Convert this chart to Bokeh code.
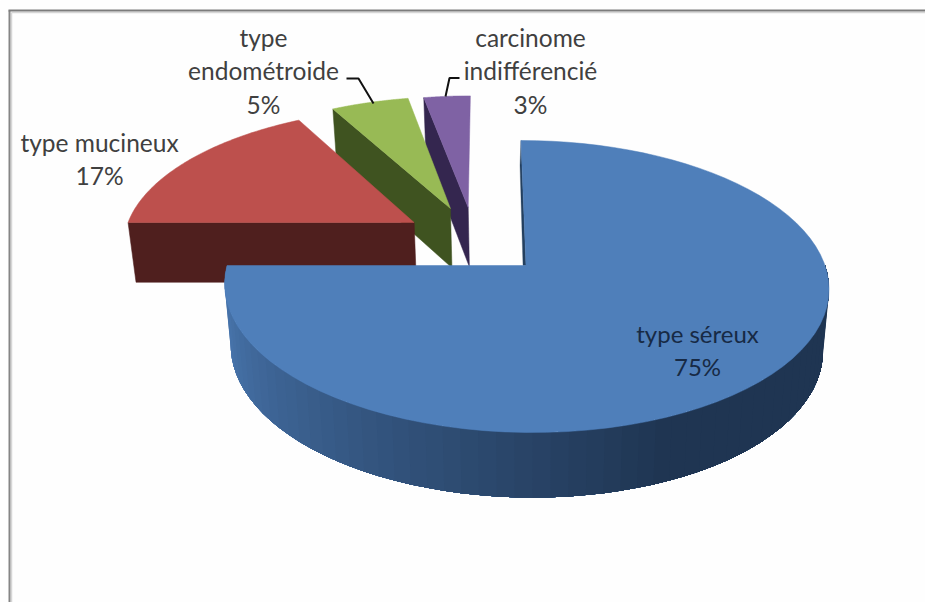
import numpy as np
from bokeh.plotting import figure
from bokeh.embed import file_html
from bokeh.resources import INLINE
from bokeh.core.properties import value

# Slice shares in percent, clockwise from twelve o'clock
categories = ["type séreux", "type mucineux", "type endométroide", "carcinome indifférencié"]
shares = [75, 17, 5, 3]

# Colours per slice: top face and cut wall
top_colors = ["#4f7fba", "#bd504d", "#98ba55", "#7f62a4"]
wall_colors = ["#24405f", "#4f1f1e", "#3f5320", "#34264f"]
# Outer rim of the large slice, shaded left to right
rim_light = np.array([0x4c, 0x7b, 0xb5])
rim_dark = np.array([0x1f, 0x35, 0x52])

# Explosion of each slice, in disc units
explode_u = [0.0, -0.385, -0.26, -0.197]
explode_v = [0.0, 0.314, 0.423, 0.43]

# Projection of the tilted disc onto the page
CX, CY, AX, BY, PERSP, SHEAR = 525.5, 265.0, 299.0, 143.0, 0.1438, 0.04
BASE_SCALE = 0.98


def top(u, v):
    w = 1 + PERSP * v
    y = -BY * v / w
    return CX + AX * u / w + SHEAR * y, CY + y


def base(u, v):
    x, y = top(u, v)
    return CX + (x - CX) * BASE_SCALE, y + 61 - 4 * v


def arc(a0, a1, n=80):
    return np.radians(np.linspace(a0, a1, n))


p = figure(width=925, height=602, x_range=(0, 925), y_range=(602, 0),
           output_backend="svg", toolbar_location=None, min_border=0,
           background_fill_color="#fefefe", border_fill_color="#fefefe")
p.axis.visible = False
p.grid.visible = False
p.outline_line_color = None

# Chart frame with its soft inner edge
p.line([11, 11], [602, 12], line_color="#d6d6d6", line_width=1.5)
p.line([11, 925], [12, 12], line_color="#d6d6d6", line_width=1.5)
p.line([9, 9], [602, 10], line_color="#858585", line_width=2)
p.line([8, 925], [10, 10], line_color="#7c7c7c", line_width=2)

# Start and end angle of every slice
edges = np.concatenate([[0], np.cumsum(shares)]) * 3.6
spans = list(zip(edges[:-1], edges[1:]))


def slice_outline(i, proj):
    a = arc(*spans[i])
    u = explode_u[i] + np.sin(a)
    v = explode_v[i] + np.cos(a)
    us = np.concatenate([[explode_u[i]], u])
    vs = np.concatenate([[explode_v[i]], v])
    return proj(us, vs)


def wall(i, angle):
    a = np.radians(angle)
    u0, v0 = explode_u[i], explode_v[i]
    u1, v1 = u0 + np.sin(a), v0 + np.cos(a)
    tx0, ty0 = top(u0, v0)
    tx1, ty1 = top(u1, v1)
    bx0, by0 = base(u0, v0)
    bx1, by1 = base(u1, v1)
    return [tx0, tx1, bx1, bx0], [ty0, ty1, by1, by0]


# Back to front: purple, green, red, then the large blue slice
for i in (3, 2, 1):
    xs, ys = wall(i, spans[i][0])
    p.patch(xs, ys, fill_color=wall_colors[i], line_color=wall_colors[i], line_width=0.5)
    xs, ys = slice_outline(i, top)
    p.patch(xs, ys, fill_color=top_colors[i], line_color=top_colors[i], line_width=0.5)

# Thin dark strip of the blue slice's inner wall, along its upright edge
xs, ys = wall(0, 0)
p.patch([xs[0], xs[1], xs[1] - 1, xs[0] - 3], [ys[0], ys[1], ys[1] + 25, ys[0]],
        fill_color=wall_colors[0], line_color=wall_colors[0], line_width=0.3)

# Rim painted left to right; each band runs on to the end so no gaps show
rim = arc(270, 90, 61)
for j in range(len(rim) - 1):
    a = rim[j:]
    tx, ty = top(np.sin(a), np.cos(a))
    bx, by = base(np.sin(a), np.cos(a))
    f = min(1.0, j / 37)
    col = rim_light + (rim_dark - rim_light) * f
    c = "#%02x%02x%02x" % tuple(int(round(k)) for k in col)
    p.patch(np.concatenate([tx, bx[::-1]]), np.concatenate([ty, by[::-1]]),
            fill_color=c, line_color=None)

xs, ys = slice_outline(0, top)
p.patch(xs, ys, fill_color=top_colors[0], line_color=top_colors[0], line_width=0.5)

# Leader lines
p.line([346, 358, 373], [78, 78, 103], line_color="#111111", line_width=2)
p.line([459, 449, 445], [77.5, 77.5, 96], line_color="#111111", line_width=2)

# Data labels, one entry per text line
label_text = ["type mucineux", "17%", "type", "endométroide", "5%", "carcinome", "indifférencié", "3%"]
label_x = [99, 99, 263, 263, 263, 530, 530, 530]
label_y = [142, 175, 37, 70, 104, 37, 70, 104]
p.text(label_x, label_y, text=label_text, text_font=value("Lato"), text_font_size="24.5px",
       text_align="center", text_baseline="middle", text_color="#404040")
p.text([697, 697], [333, 366], text=["type séreux", "75%"], text_font=value("Lato"), text_font_size="24px",
       text_align="center", text_baseline="middle", text_color="#172a45")

open("out.html", "w").write(file_html(p, INLINE))
